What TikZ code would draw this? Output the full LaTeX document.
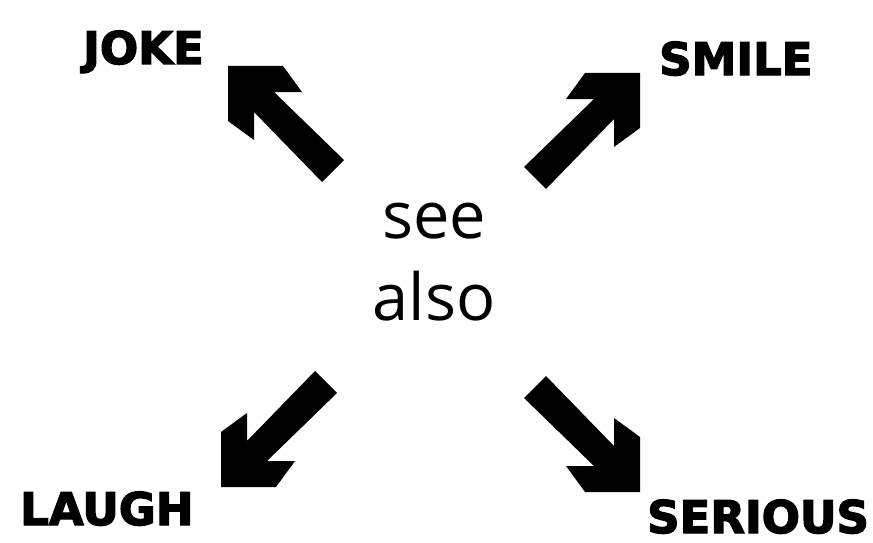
\documentclass[tikz,border=0pt]{standalone}
\usepackage{fontspec}
\newfontfamily\seefont{Open Sans}
\newfontfamily\lblfont{DejaVu Sans}[BoldFeatures={FakeBold=3}]
\begin{document}
\begin{tikzpicture}[x=1pt,y=-1pt,
  lbl/.style={font=\lblfont\bfseries\fontsize{45}{45}\selectfont, inner sep=0pt, anchor=base west},
  seetext/.style={font=\seefont\fontsize{65}{82}\selectfont, inner sep=0pt, align=center, anchor=base},
  fatarrow/.pic={\fill[black] (0,0) -- (55,0) -- (74,26) -- (46,26) -- (116,94) -- (94,116)
      -- (26,46) -- (26,74) -- (0,55) -- cycle;}]
\useasboundingbox[fill=white] (0,0) rectangle (873,543);
\node[seetext] (see) at (434,320) {see\\also};
\node[lbl] (joke) at (83,64) {JOKE};
\node[lbl] (smile) at (659,75) {SMILE};
\node[lbl] (laugh) at (20,525) {LAUGH};
\node[lbl] (serious) at (647,533) {SERIOUS};
\coordinate (tipJ) at (228,66);
\coordinate (tipS) at (640,73);
\coordinate (tipL) at (221,487);
\coordinate (tipR) at (640,492);
\pic at (tipJ) {fatarrow};
\pic[xscale=-1] at (tipS) {fatarrow};
\pic[yscale=-1] at (tipL) {fatarrow};
\pic[xscale=-1,yscale=-1] at (tipR) {fatarrow};
\end{tikzpicture}
\end{document}
